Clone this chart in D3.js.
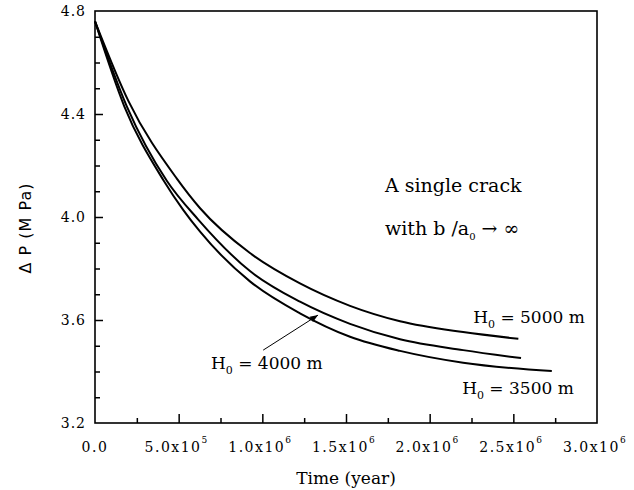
<!DOCTYPE html>
<html>
<head>
<meta charset="utf-8">
<script src="https://cdn.jsdelivr.net/npm/d3@7"></script>
<style>
	body { margin: 0; background: #fff; }
	text { font-family: "DejaVu Serif", serif; fill: #000; }
	.curve { fill: none; stroke: #000; stroke-width: 2; }
</style>
</head>
<body>
<div id="canvas"></div>
<script>
// time in units of 1e6 years, dP in MPa
const h5000 = [[0, 4.76], [0.2, 4.45], [0.488, 4.15], [0.628, 4.034], [0.926, 3.86], [1.225, 3.742], [1.524, 3.655], [1.823, 3.595], [2.2, 3.553], [2.53, 3.527]];
const h4000 = [[0, 4.76], [0.19, 4.43], [0.43, 4.14], [0.617, 3.99], [0.926, 3.79], [1.225, 3.671], [1.524, 3.585], [1.823, 3.525], [2.2, 3.483], [2.546, 3.452]];
const h3500 = [[0, 4.76], [0.175, 4.43], [0.408, 4.144], [0.528, 4.027], [0.628, 3.943], [0.926, 3.75], [1.225, 3.626], [1.524, 3.535], [1.823, 3.48], [2.2, 3.434], [2.73, 3.402]];

const xMajor = [0, 0.5, 1.0, 1.5, 2.0, 2.5, 3.0];
const xMinor = [0.25, 0.75, 1.25, 1.75, 2.25, 2.75];
const xLabels = ["0.0", "5.0x10", "1.0x10", "1.5x10", "2.0x10", "2.5x10", "3.0x10"];
const xExp = ["", "5", "6", "6", "6", "6", "6"];
const yMajor = [3.2, 3.6, 4.0, 4.4, 4.8];
const yMinor = [3.3, 3.4, 3.5, 3.7, 3.8, 3.9, 4.1, 4.2, 4.3, 4.5, 4.6, 4.7];

// curve labels: [x, y] anchor in data units, depth
const curveLabels = [[2.26, 3.588, "5000"], [0.693, 3.41, "4000"], [2.194, 3.313, "3500"]];
const arrow4000 = [[1.005, 3.483], [1.333, 3.619]];

const svg = d3.select("#canvas").append("svg")
	.attr("width", 634)
	.attr("height", 490);

const xs = d3.scaleLinear().domain([0, 3]).range([95, 597]);
const ys = d3.scaleLinear().domain([3.2, 4.8]).range([423, 11]);

svg.append("defs").append("marker")
	.attr("id", "head")
	.attr("viewBox", "0 0 10 10")
	.attr("refX", 10).attr("refY", 5)
	.attr("markerWidth", 10).attr("markerHeight", 8)
	.attr("markerUnits", "userSpaceOnUse")
	.attr("orient", "auto")
	.append("path").attr("d", "M0,1 L10,5 L0,9 Z").attr("fill", "#000");

// frame
svg.append("rect")
	.attr("x", xs(0)).attr("y", ys(4.8))
	.attr("width", xs(3) - xs(0)).attr("height", ys(3.2) - ys(4.8))
	.attr("fill", "none").attr("stroke", "#000").attr("stroke-width", 1.6);

// ticks pointing inward
const xAxis = svg.append("g").attr("transform", "translate(0," + ys(3.2) + ")");
xAxis.call(d3.axisTop(xs).tickValues(xMajor.slice(1, -1)).tickSize(9).tickFormat(""));
xAxis.append("g").call(d3.axisTop(xs).tickValues(xMinor).tickSize(5).tickFormat(""));

const yAxis = svg.append("g").attr("transform", "translate(" + xs(0) + ",0)");
yAxis.call(d3.axisRight(ys).tickValues(yMajor.slice(1, -1)).tickSize(8).tickFormat(""));
yAxis.append("g").call(d3.axisRight(ys).tickValues(yMinor).tickSize(5).tickFormat(""));

svg.selectAll(".domain").remove();
svg.selectAll(".tick line").attr("stroke", "#000").attr("stroke-width", 1.5);

// tick labels
const xl = svg.append("g").selectAll("text").data(xMajor).enter().append("text")
	.attr("x", (d, i) => xs(d) + (i === 0 ? 0 : -2))
	.attr("y", 452)
	.attr("text-anchor", "middle")
	.style("font-size", "14px")
	.style("letter-spacing", "1.5px");
xl.append("tspan").text((d, i) => xLabels[i]);
xl.append("tspan")
	.attr("dy", -9)
	.style("font-size", "9px")
	.text((d, i) => xExp[i]);

svg.append("g").selectAll("text").data(yMajor).enter().append("text")
	.attr("x", 86)
	.attr("y", d => ys(d) + 5)
	.attr("text-anchor", "end")
	.style("font-size", "14px")
	.style("letter-spacing", "1px")
	.text(d => d.toFixed(1));

// axis titles
svg.append("text")
	.attr("x", 346).attr("y", 484)
	.attr("text-anchor", "middle")
	.style("font-size", "17px")
	.text("Time (year)");

svg.append("text")
	.attr("transform", "translate(31,228) rotate(-90)")
	.attr("text-anchor", "middle")
	.style("font-family", "'DejaVu Sans', sans-serif")
	.style("font-size", "16px")
	.style("letter-spacing", "1px")
	.text("Δ P (M Pa)");

// curves
const line = d3.line()
	.x(d => xs(d[0]))
	.y(d => ys(d[1]))
	.curve(d3.curveMonotoneX);

[h5000, h4000, h3500].forEach(s => {
	svg.append("path").datum(s).attr("class", "curve").attr("d", line);
});

// curve labels
curveLabels.forEach(d => {
	const t = svg.append("text")
		.attr("x", xs(d[0])).attr("y", ys(d[1]))
		.style("font-size", "17px");
	t.append("tspan").text("H");
	t.append("tspan").attr("dy", 5).style("font-size", "11px").text("0");
	t.append("tspan").attr("dy", -5).text(" = " + d[2] + " m");
});

svg.append("line")
	.attr("x1", xs(arrow4000[0][0])).attr("y1", ys(arrow4000[0][1]))
	.attr("x2", xs(arrow4000[1][0])).attr("y2", ys(arrow4000[1][1]))
	.attr("stroke", "#000").attr("stroke-width", 1)
	.attr("marker-end", "url(#head)");

// note
svg.append("text")
	.attr("x", xs(1.733)).attr("y", ys(4.097))
	.style("font-size", "19px")
	.text("A single crack");

const note2 = svg.append("text")
	.attr("x", xs(1.733)).attr("y", ys(3.93))
	.style("font-size", "19px");
note2.append("tspan").text("with b /a");
note2.append("tspan").attr("dy", 5).style("font-size", "10px").text("0");
note2.append("tspan").attr("dy", -5).text(" → ∞");
</script>
</body>
</html>
